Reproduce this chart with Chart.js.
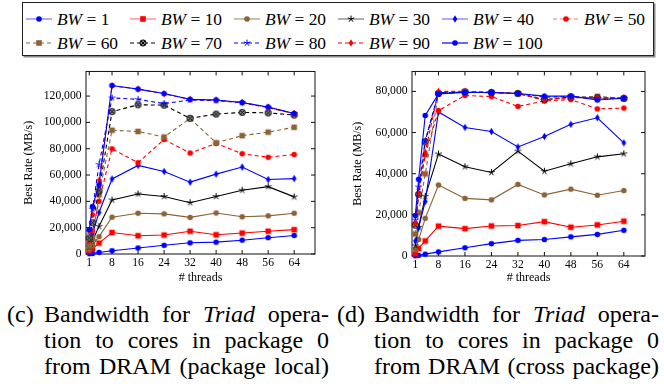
<!DOCTYPE html>
<html><head><meta charset="utf-8">
<script src="https://cdn.jsdelivr.net/npm/chart.js@4.4.0/dist/chart.umd.min.js"></script>
<style>
html,body{margin:0;padding:0;background:#fff;}
body{width:664px;height:386px;position:relative;overflow:hidden;color:#000;}
body, div, span, i{font-family:"Liberation Serif","Times New Roman",serif;}
#legendBox{position:absolute;left:22px;top:2px;width:632px;height:54px;border:1px solid #222;box-sizing:border-box;box-shadow:1.5px 1.5px 0 #8a8a8a;}
.item{position:absolute;height:20px;display:flex;align-items:center;white-space:nowrap;}
.item canvas{display:block;}
.item span{margin-left:5px;font-size:17.4px;line-height:20px;}
.item i{font-style:italic;}
canvas.chart{position:absolute;top:60px;}
.lab{position:absolute;font-size:24px;line-height:26.3px;}
.capline{width:285px;text-align:justify;text-align-last:justify;font-size:24px;line-height:26.3px;height:26.3px;}
.capblk{position:absolute;}
</style>
</head><body>
<div id="legendBox"></div>
<div id="legendItems"></div>
<canvas id="c1" class="chart" width="330" height="230" style="left:0px"></canvas>
<canvas id="c2" class="chart" width="334" height="230" style="left:330px"></canvas>

<div class="lab" style="left:7px;top:300.8px">(c)</div>
<div class="capblk" style="left:44px;top:300.8px">
  <div class="capline">Bandwidth for <i>Triad</i> opera-</div>
  <div class="capline">tion to cores in package 0</div>
  <div class="capline">from DRAM (package local)</div>
</div>
<div class="lab" style="left:337px;top:300.8px">(d)</div>
<div class="capblk" style="left:374px;top:300.8px">
  <div class="capline">Bandwidth for <i>Triad</i> opera-</div>
  <div class="capline">tion to cores in package 0</div>
  <div class="capline">from DRAM (cross package)</div>
</div>

<script>
// ---------- data ----------
const threads = [1, 2, 4, 8, 16, 24, 32, 40, 48, 56, 64];
const xTickValues = [1, 8, 16, 24, 32, 40, 48, 56, 64];
const yTicksLocal = [0, 20000, 40000, 60000, 80000, 100000, 120000];
const yTicksCross = [0, 20000, 40000, 60000, 80000];
const seriesLabels = ['1', '10', '20', '30', '40', '50', '60', '70', '80', '90', '100'];

// (c) package local
const localBW1   = [200, 400, 1200, 2500, 4600, 6600, 8500, 9000, 10500, 12400, 14100];
const localBW10  = [2200, 4000, 8300, 16300, 13900, 14400, 17300, 14600, 15900, 17300, 18500];
const localBW20  = [3400, 6500, 13200, 28000, 31000, 30500, 27800, 31200, 28300, 29000, 31000];
const localBW30  = [5400, 10000, 21000, 41000, 45600, 43700, 39000, 43700, 48500, 51200, 43400];
const localBW40  = [7000, 15500, 31500, 57000, 67300, 62700, 54600, 60700, 66100, 56600, 57300];
const localBW50  = [8300, 17500, 40000, 79900, 69400, 87000, 76700, 84000, 76200, 73500, 75600];
const localBW60  = [6000, 12000, 45000, 94000, 93100, 88900, 103000, 84500, 89900, 92600, 96300];
const localBW70  = [12200, 23700, 48000, 108200, 113400, 113100, 103100, 106300, 107600, 107200, 105600];
const localBW80  = [17000, 34000, 68000, 118600, 117500, 114300, 117000, 116500, 115000, 111200, 106800];
const localBW90  = [17500, 30000, 56000, 127800, 125300, 121700, 117500, 117000, 115000, 111500, 106600];
const localBW100 = [18500, 36100, 52500, 128000, 125300, 121900, 117500, 117000, 115100, 111700, 106800];

// (d) cross package
const crossBW1   = [100, 300, 900, 2000, 4000, 6000, 7600, 8000, 9300, 10500, 12500];
const crossBW10  = [1000, 3700, 7300, 14500, 13300, 14600, 14800, 16700, 14000, 15100, 16900];
const crossBW20  = [3300, 8000, 18300, 34500, 28000, 27300, 34800, 29700, 32500, 29500, 31800];
const crossBW30  = [5000, 14000, 29000, 49600, 43400, 40600, 51000, 41200, 44800, 48200, 49700];
const crossBW40  = [7300, 13800, 26500, 70000, 62500, 60500, 53000, 58100, 64000, 67200, 55000];
const crossBW50  = [15500, 30000, 49300, 70700, 78000, 77500, 72700, 75400, 76000, 71500, 71900];
const crossBW60  = [10700, 21000, 39900, 79000, 79700, 79500, 79000, 75800, 77200, 77600, 76600];
const crossBW70  = [15000, 30000, 55500, 79000, 79800, 79500, 79000, 76000, 77300, 76800, 76600];
const crossBW80  = [17500, 33500, 56000, 79400, 79600, 79400, 79000, 77200, 77500, 76700, 76600];
const crossBW90  = [15800, 30500, 50500, 80000, 80000, 79600, 79000, 75800, 77000, 76800, 77000];
const crossBW100 = [19700, 37300, 68300, 78800, 79500, 79500, 79000, 77700, 77700, 75800, 76700];

const localSeries = [localBW1, localBW10, localBW20, localBW30, localBW40, localBW50, localBW60, localBW70, localBW80, localBW90, localBW100];
const crossSeries = [crossBW1, crossBW10, crossBW20, crossBW30, crossBW40, crossBW50, crossBW60, crossBW70, crossBW80, crossBW90, crossBW100];

// ---------- styles ----------
const BROWN = '#8b6336';
const DASH = [4, 3];
const styles = [
  {color:'#0000ff', legend:'#7373ff', dash:[], marker:'circle'},
  {color:'#ff0000', legend:'#ff7a7a', dash:[], marker:'square'},
  {color:BROWN,     legend:'#a89276', dash:[], marker:'circle'},
  {color:'#000000', legend:'#7a7a7a', dash:[], marker:'star'},
  {color:'#0000ff', legend:'#7373ff', dash:[], marker:'diamond'},
  {color:'#ff0000', legend:'#ff7a7a', dash:DASH, marker:'circle'},
  {color:BROWN,     legend:BROWN,     dash:DASH, marker:'square'},
  {color:'#000000', legend:'#000000', dash:DASH, marker:'otimes'},
  {color:'#0000ff', legend:'#0000ff', dash:DASH, marker:'star'},
  {color:'#ff0000', legend:'#ff0000', dash:DASH, marker:'diamond'},
  {color:'#0000ff', legend:'#0000ff', dash:[], marker:'circle'}
];

function drawMarker(g, type, color, cx, cy) {
  g.save();
  g.fillStyle = color; g.strokeStyle = color; g.lineWidth = 1; g.setLineDash([]);
  if (type === 'circle') {
    g.beginPath(); g.arc(cx, cy, 2.8, 0, Math.PI * 2); g.fill();
  } else if (type === 'square') {
    g.fillRect(cx - 2.8, cy - 2.8, 5.6, 5.6);
  } else if (type === 'diamond') {
    g.beginPath(); g.moveTo(cx, cy - 3.8); g.lineTo(cx + 2.3, cy); g.lineTo(cx, cy + 3.8); g.lineTo(cx - 2.3, cy); g.closePath(); g.fill();
  } else if (type === 'star') {
    g.beginPath();
    for (let k = 0; k < 5; k++) {
      const a = -Math.PI / 2 + k * 2 * Math.PI / 5;
      g.moveTo(cx, cy); g.lineTo(cx + 3.4 * Math.cos(a), cy + 3.4 * Math.sin(a));
    }
    g.stroke();
  } else if (type === 'otimes') {
    g.beginPath(); g.arc(cx, cy, 3.1, 0, Math.PI * 2); g.fillStyle = '#8a8a8a'; g.fill(); g.strokeStyle = '#000'; g.stroke();
    const d = 2.2;
    g.beginPath(); g.moveTo(cx - d, cy - d); g.lineTo(cx + d, cy + d); g.moveTo(cx + d, cy - d); g.lineTo(cx - d, cy + d); g.stroke();
  }
  g.restore();
}
function markerCanvas(type, color) {
  const c = document.createElement('canvas');
  c.width = 11; c.height = 11;
  drawMarker(c.getContext('2d'), type, color, 5.5, 5.5);
  return c;
}
const markerImgs = styles.map(s => markerCanvas(s.marker, s.color));

// ---------- legend (HTML) ----------
const legendCols = [26, 130, 234, 338, 442, 553];
const legendRows = [19, 42.5];
const legendHost = document.getElementById('legendItems');
seriesLabels.forEach((lab, i) => {
  const row = Math.floor(i / 6), col = i % 6;
  const it = document.createElement('div');
  it.className = 'item';
  it.style.left = legendCols[col] + 'px';
  it.style.top = (legendRows[row] - 10) + 'px';
  const cv = document.createElement('canvas');
  cv.width = 26; cv.height = 12;
  const g = cv.getContext('2d');
  g.strokeStyle = styles[i].legend; g.lineWidth = 1.2; g.setLineDash(styles[i].dash);
  g.beginPath(); g.moveTo(0, 6); g.lineTo(26, 6); g.stroke();
  drawMarker(g, styles[i].marker, styles[i].color, 13, 6);
  it.appendChild(cv);
  const sp = document.createElement('span');
  sp.innerHTML = '<i>BW</i> = ' + lab;
  it.appendChild(sp);
  legendHost.appendChild(it);
});

// ---------- charts ----------
const FONT = '"Liberation Serif", serif';
const framePlugin = {
  id: 'frame',
  beforeDatasetsDraw(chart) {
    const {ctx, chartArea: a, scales} = chart;
    ctx.save();
    ctx.strokeStyle = '#111'; ctx.lineWidth = 1;
    ctx.strokeRect(a.left, a.top, a.right - a.left, a.bottom - a.top);
    const L = 4;
    ctx.beginPath();
    scales.x.ticks.forEach(t => {
      const px = scales.x.getPixelForValue(t.value);
      ctx.moveTo(px, a.bottom); ctx.lineTo(px, a.bottom - L);
      ctx.moveTo(px, a.top); ctx.lineTo(px, a.top + L);
    });
    scales.y.ticks.forEach(t => {
      const py = scales.y.getPixelForValue(t.value);
      ctx.moveTo(a.left, py); ctx.lineTo(a.left + L, py);
      ctx.moveTo(a.right, py); ctx.lineTo(a.right - L, py);
    });
    ctx.stroke();
    ctx.restore();
  }
};

function makeChart(id, seriesArr, yMax, yTicks, pad, yWidth, xHeight, yTitlePad) {
  const datasets = seriesArr.map((d, i) => ({
    label: 'BW = ' + seriesLabels[i],
    data: threads.map((x, j) => ({x: x, y: d[j]})),
    borderColor: styles[i].color,
    backgroundColor: styles[i].color,
    borderWidth: 1.1,
    borderDash: styles[i].dash,
    pointStyle: markerImgs[i],
    pointRadius: 3,
    pointHoverRadius: 3,
    fill: false,
    tension: 0,
    clip: false,
    order: 10 - i
  }));
  return new Chart(document.getElementById(id), {
    type: 'line',
    data: {datasets},
    plugins: [framePlugin],
    options: {
      responsive: false, animation: false, devicePixelRatio: 1,
      layout: {padding: pad},
      plugins: {legend: {display: false}, tooltip: {enabled: false}},
      scales: {
        x: {
          type: 'linear', min: 0, max: 70.4,
          afterBuildTicks: s => { s.ticks = xTickValues.map(v => ({value: v})); },
          grid: {display: false, drawTicks: false},
          border: {display: false},
          ticks: {font: {family: FONT, size: 11.6}, color: '#000', padding: 2, maxRotation: 0, autoSkip: false},
          title: {display: true, text: '# threads', color: '#000', font: {family: FONT, size: 12}, padding: {top: 0, bottom: 4.8}},
          afterFit: s => { s.height = xHeight; }
        },
        y: {
          type: 'linear', min: 0, max: yMax,
          afterBuildTicks: s => { s.ticks = yTicks.map(v => ({value: v})); },
          grid: {display: false, drawTicks: false},
          border: {display: false},
          ticks: {font: {family: FONT, size: 11.6}, color: '#000', padding: 4.5,
                  callback: v => Number(v).toLocaleString('en-US')},
          title: {display: true, text: 'Best Rate (MB/s)', color: '#000', font: {family: FONT, size: 12}, padding: {top: yTitlePad, bottom: 0}},
          afterFit: s => { s.width = yWidth; }
        }
      }
    }
  });
}

makeChart('c1', localSeries, 138700, yTicksLocal, {top: 4.7, right: 15, left: 0, bottom: 0}, 86, 36, 21.8);
makeChart('c2', crossSeries, 89700, yTicksCross, {top: 2.7, right: 19, left: 0, bottom: 0}, 82, 34, 20.8);
</script>
</body></html>
